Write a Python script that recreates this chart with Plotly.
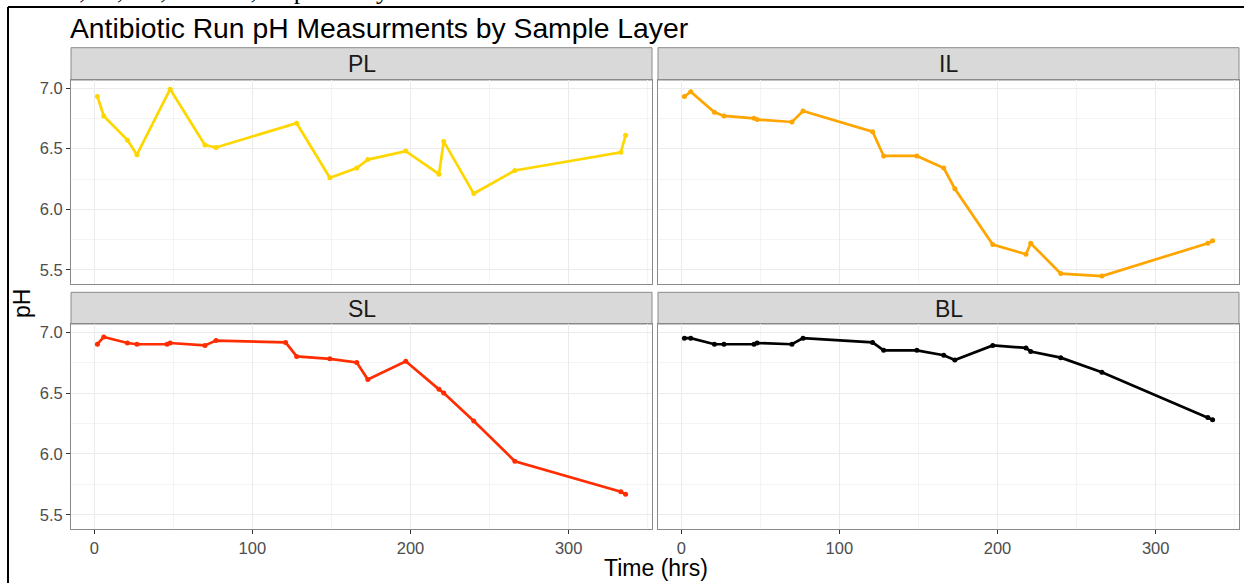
import plotly.graph_objects as go

W, H = 1244, 583

# ---------------- data ----------------
layers = ["PL", "IL", "SL", "BL"]
colors = ["#FFD700", "#FFA500", "#FF2D00", "#000000"]

time_pl = [2, 6, 21, 27, 48, 70, 77, 128, 149, 166, 173, 197, 218, 221, 240, 266, 333, 336]
ph_pl = [6.93, 6.77, 6.57, 6.45, 6.99, 6.53, 6.51, 6.71, 6.26, 6.34, 6.41, 6.48, 6.29, 6.56, 6.13, 6.32, 6.47, 6.61]

time_all = [2, 6, 21, 27, 46, 48, 70, 77, 121, 128, 149, 166, 173, 197, 218, 221, 240, 266, 333, 336]
ph_il = [6.93, 6.97, 6.80, 6.77, 6.75, 6.74, 6.72, 6.81, 6.64, 6.44, 6.44, 6.34, 6.17, 5.71, 5.63, 5.72, 5.47, 5.45, 5.72, 5.74]
ph_sl = [6.90, 6.96, 6.91, 6.90, 6.90, 6.91, 6.89, 6.93, 6.915, 6.80, 6.78, 6.75, 6.61, 6.76, 6.53, 6.50, 6.27, 5.94, 5.69, 5.67]
ph_bl = [6.95, 6.95, 6.90, 6.90, 6.90, 6.91, 6.90, 6.95, 6.915, 6.85, 6.85, 6.81, 6.77, 6.89, 6.87, 6.84, 6.79, 6.67, 6.30, 6.28]

x_ticks = [0, 100, 200, 300]
y_ticks = [5.5, 6.0, 6.5, 7.0]
y_tick_text = ["5.5", "6.0", "6.5", "7.0"]

title_text = "Antibiotic Run pH Measurments by Sample Layer"
x_title = "Time (hrs)"
y_title = "pH"
clipped_text = "PL, IL, SL, and BL, respectively"

series_x = [time_pl, time_all, time_all, time_all]
series_y = [ph_pl, ph_il, ph_sl, ph_bl]

# ---------------- layout helpers ----------------
def px(x):
    return x / W

def py(y):
    return 1 - y / H

FONT = "Liberation Sans, Arial"
x_range = [-14.7, 352.7]
y_range = [5.382, 7.066]

col_px = [(71, 652), (658, 1239)]
row_px = [(80, 284.3), (324, 529.3)]
strip_px = [(47.7, 80), (292.3, 324)]

fig = go.Figure()

shapes = []
annotations = []
layout_axes = {}

for i, name in enumerate(layers):
    r, c = divmod(i, 2)
    idx = "" if i == 0 else str(i + 1)
    xa, ya = "x" + idx, "y" + idx
    fig.add_trace(go.Scatter(
        x=series_x[i], y=series_y[i], mode="lines+markers",
        line=dict(color=colors[i], width=2.7),
        marker=dict(color=colors[i], size=5),
        xaxis=xa, yaxis=ya, showlegend=False, cliponaxis=False,
    ))
    x0, x1 = col_px[c]
    y0, y1 = row_px[r]
    layout_axes["xaxis" + idx] = dict(
        domain=[px(x0), px(x1)], range=x_range, anchor=ya,
        tickvals=x_ticks, ticktext=[str(v) for v in x_ticks],
        showticklabels=(r == 1), ticks="outside" if r == 1 else "",
        ticklen=4, tickwidth=1, tickcolor="#333333",
        tickfont=dict(family=FONT, size=16.5, color="#4D4D4D"),
        showgrid=True, gridcolor="#EBEBEB", gridwidth=1.1,
        minor=dict(tickvals=[50, 150, 250, 350], showgrid=True, gridcolor="#F4F4F4", gridwidth=0.8, ticks=""),
        showline=True, mirror=True, linecolor="#8A8A8A", linewidth=1,
        zeroline=False, fixedrange=True,
    )
    layout_axes["yaxis" + idx] = dict(
        domain=[py(y1), py(y0)], range=y_range, anchor=xa,
        tickvals=y_ticks, ticktext=y_tick_text,
        showticklabels=(c == 0), ticks="outside" if c == 0 else "",
        ticklen=4, tickwidth=1, tickcolor="#333333",
        tickfont=dict(family=FONT, size=16.5, color="#4D4D4D"),
        showgrid=True, gridcolor="#EBEBEB", gridwidth=1.1,
        minor=dict(tickvals=[5.25, 5.75, 6.25, 6.75], showgrid=True, gridcolor="#F4F4F4", gridwidth=0.8, ticks=""),
        showline=True, mirror=True, linecolor="#8A8A8A", linewidth=1,
        zeroline=False, fixedrange=True,
    )
    # strip
    s0, s1 = strip_px[r]
    shapes.append(dict(type="rect", xref="paper", yref="paper",
                       x0=px(x0), x1=px(x1), y0=py(s1), y1=py(s0),
                       fillcolor="#D9D9D9", line=dict(color="#8A8A8A", width=1), layer="below"))
    annotations.append(dict(text=name, xref="paper", yref="paper",
                            x=px((x0 + x1) / 2), y=py((s0 + s1) / 2 + 0.5),
                            xanchor="center", yanchor="middle", showarrow=False,
                            font=dict(family=FONT, size=23, color="#1A1A1A")))

# frame lines
shapes.append(dict(type="line", xref="paper", yref="paper", x0=px(8), x1=px(8), y0=0, y1=py(7),
                   line=dict(color="black", width=2)))
shapes.append(dict(type="line", xref="paper", yref="paper", x0=px(8), x1=1, y0=py(7), y1=py(7),
                   line=dict(color="black", width=2)))

# title & axis titles
annotations.append(dict(text=title_text, xref="paper", yref="paper", x=px(68), y=py(28),
                        xanchor="left", yanchor="middle", showarrow=False,
                        font=dict(family=FONT, size=28.3, color="black")))
annotations.append(dict(text=x_title, xref="paper", yref="paper", x=px(656), y=py(568),
                        xanchor="center", yanchor="middle", showarrow=False,
                        font=dict(family=FONT, size=23, color="black")))
annotations.append(dict(text=y_title, xref="paper", yref="paper", x=px(22), y=py(304),
                        xanchor="center", yanchor="middle", showarrow=False, textangle=-90,
                        font=dict(family=FONT, size=23, color="black")))
annotations.append(dict(text=clipped_text, xref="paper", yref="paper", x=px(47), y=py(7),
                        xanchor="left", yanchor="bottom", showarrow=False,
                        font=dict(family="Liberation Serif, Times New Roman", size=26, color="black")))

fig.update_layout(
    width=W, height=H, margin=dict(l=0, r=0, t=0, b=0),
    paper_bgcolor="white", plot_bgcolor="white",
    shapes=shapes, annotations=annotations, **layout_axes,
)

fig.write_html("out.html", include_plotlyjs=True, config={"displayModeBar": False})
